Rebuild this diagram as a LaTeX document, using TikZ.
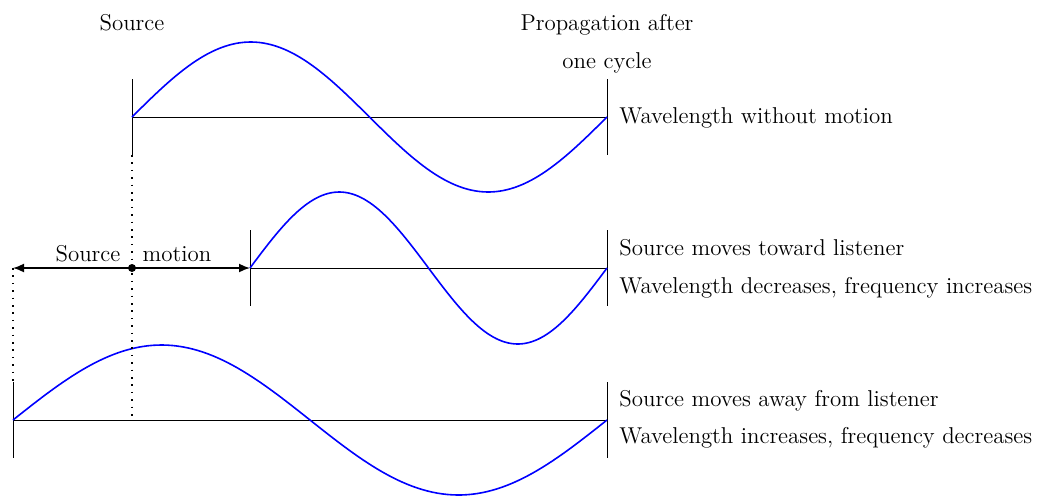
\documentclass[tikz,border=0pt]{standalone}
\usetikzlibrary{arrows.meta}

\begin{document}
\begin{tikzpicture}[x=0.5pt,y=0.5pt,
  wave/.style={blue,thick},
  baseline axis/.style={black,thin},
  guide/.style={line width=0.8pt,dash pattern=on 0.8pt off 2.9pt},
  motionarrow/.style={thick,-{Latex[length=5.5pt,width=4.5pt]}},
  label/.style={inner sep=0pt,anchor=base west,font=\fontsize{11.45}{13.7}\selectfont},
  caption/.style={inner sep=0pt,anchor=base,font=\fontsize{11.45}{13.7}\selectfont}]
  \useasboundingbox (0,0) rectangle (1038,495);

  % end points of the three waves
  \coordinate (topL) at (132,378);
  \coordinate (topR) at (607,378);
  \coordinate (midL) at (250,227);
  \coordinate (midR) at (607,227);
  \coordinate (botL) at (13,75);
  \coordinate (botR) at (607,75);
  \coordinate (src) at (132,227);
  \coordinate (far) at (13,227);

  % ticks and axes
  \foreach \p in {topL,topR,midL,midR,botL,botR} {
    \draw[baseline axis] ([yshift=19pt]\p) -- ([yshift=-19pt]\p);
  }
  \draw[baseline axis] (topL) -- (topR);
  \draw[baseline axis] (midL) -- (midR);
  \draw[baseline axis] (botL) -- (botR);

  % one wavelength each
  \draw[wave] plot[domain=0:360,samples=120] ({132+\x/360*475},{378+75*sin(\x)});
  \draw[wave] plot[domain=0:360,samples=120] ({250+\x/360*357},{227+76*sin(\x)});
  \draw[wave] plot[domain=0:360,samples=120] ({13+\x/360*594},{75+75*sin(\x)});

  % guides
  \draw[guide] ([yshift=-19pt]topL) -- (topL |- botL);
  \draw[guide] (far) -- ([yshift=19pt]botL);

  % source motion
  \draw[motionarrow] (src) -- (far);
  \draw[motionarrow] (src) -- (midL);
  \fill (src) circle (2pt);
  \node[caption] (srcword) at (88,234) {Source};
  \node[caption] (motionword) at (177,234) {motion};

  \node[caption] (srctop) at (132,465) {Source};
  \node[caption] (prop1) at (607,465) {Propagation after};
  \node[caption] (prop2) at (607,427) {one cycle};

  \node[label] (lblTop) at (619,372) {Wavelength without motion};
  \node[label] (lblToward) at (619,240) {Source moves toward listener};
  \node[label] (lblShorter) at (619,202) {Wavelength decreases, frequency increases};
  \node[label] (lblAway) at (619,89) {Source moves away from listener};
  \node[label] (lblLonger) at (619,52) {Wavelength increases, frequency decreases};
\end{tikzpicture}
\end{document}
